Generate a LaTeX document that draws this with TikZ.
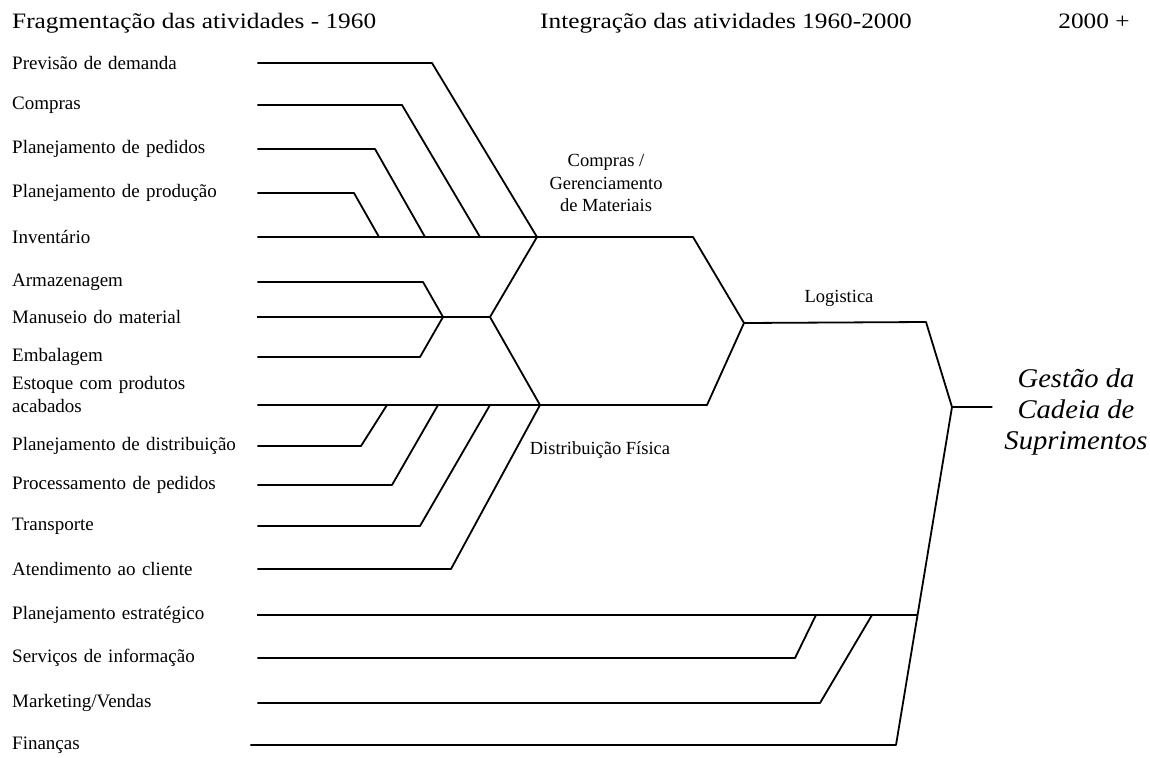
\documentclass[tikz,border=0pt]{standalone}
\usepackage{fontspec}
\setmainfont{Liberation Serif}
\newfontfamily\hdrfont{Liberation Serif}[FakeStretch=1.15]
\newfontfamily\gscfont{Liberation Serif}[FakeStretch=1.06]
\usetikzlibrary{positioning,calc}

\begin{document}
\begin{tikzpicture}[
    x=1pt, y=-1pt,
    lbl/.style={anchor=west, text width=245pt, inner sep=0pt, align=left,
        font=\fontsize{19}{23}\selectfont},
    hdr/.style={inner sep=0pt, anchor=base, font=\hdrfont\fontsize{22}{26}\selectfont},
    stage/.style={inner sep=0pt, align=center, font=\fontsize{18.5}{22.5}\selectfont},
    final/.style={inner xsep=12pt, inner ysep=0pt, align=center,
        font=\gscfont\itshape\fontsize{27}{31}\selectfont},
    link/.style={line width=1.8pt, line join=round}
]
    \useasboundingbox (0,0) rectangle (1150,757);

    \node[hdr, anchor=base west] (h1) at (12,29) {Fragmentação das atividades - 1960};
    \node[hdr] (h2) at (726,29) {Integração das atividades 1960-2000};
    \node[hdr] (h3) at (1094,29) {2000 +};

    % activities, top to bottom
    \node[lbl] (prev) at (12,63) {Previsão de demanda};
    \node[lbl] (comp) at (12,105) {Compras};
    \node[lbl] (pped) at (12,149) {Planejamento de pedidos};
    \node[lbl] (pprod) at (12,193) {Planejamento de produção};
    \node[lbl] (inv) at (12,237) {Inventário};
    \node[lbl] (arm) at (12,282) {Armazenagem};
    \node[lbl] (man) at (12,317) {Manuseio do material};
    \node[lbl] (emb) at (12,357) {Embalagem};
    \node[lbl] (est) at (12,394) {Estoque com produtos\\acabados};
    \node[lbl] (pdist) at (12,446) {Planejamento de distribuição};
    \node[lbl] (proc) at (12,485) {Processamento de pedidos};
    \node[lbl] (transp) at (12,526) {Transporte};
    \node[lbl] (atend) at (12,569) {Atendimento ao cliente};
    \node[lbl] (pest) at (12,615) {Planejamento estratégico};
    \node[lbl] (serv) at (12,658) {Serviços de informação};
    \node[lbl] (mkt) at (12,703) {Marketing/Vendas};
    \node[lbl, text width=238pt] (fin) at (12,745) {Finanças};

    \node[stage] (mat) at (606,183) {Compras /\\Gerenciamento\\de Materiais};
    \node[stage] (dist) at (600,450) {Distribuição Física};
    \node[stage] (logi) at (839,298) {Logistica};
    \node[final] (gsc) at (1076,412) {Gestão da\\Cadeia de\\Suprimentos};

    \coordinate (jM) at (537,237);
    \coordinate (jW) at (443,317);
    \coordinate (jC) at (490,317);
    \coordinate (jD) at (540,405);
    \coordinate (jL) at (744,323);
    \coordinate (jS) at (952,407);

    % materials
    \draw[link] (prev.east) -- (432,63) -- (jM);
    \draw[link] (comp.east) -- (402,105) -- (480,237);
    \draw[link] (pped.east) -- (375,149) -- (425,237);
    \draw[link] (pprod.east) -- (354,193) -- (379,237);
    \draw[link] (inv.east) -- (jM) -- (693,237) -- (jL);

    % warehouse
    \draw[link] (arm.east) -- (423,282) -- (jW);
    \draw[link] (emb.east) -- (420,357) -- (jW);
    \draw[link] (man.east) -- (jC);
    \draw[link] (jM) -- (jC) -- (jD);

    % physical distribution
    \draw[link] (est.east |- jD) -- (jD) -- (707,405) -- (jL);
    \draw[link] (pdist.east) -- (361,446) -- (387,405);
    \draw[link] (proc.east) -- (392,485) -- (438,405);
    \draw[link] (transp.east) -- (420,526) -- (490,405);
    \draw[link] (atend.east) -- (451,569) -- (jD);

    % logistics and supply chain
    \draw[link] (jL) -- (926,322) -- (jS) -- (gsc.west |- jS);
    \draw[link] (fin.east) -- (896,745) -- (jS);
    \draw[link] (pest.east) -- (917,615);
    \draw[link] (serv.east) -- (795,658) -- (816,615);
    \draw[link] (mkt.east) -- (820,703) -- (872,615);
\end{tikzpicture}
\end{document}
